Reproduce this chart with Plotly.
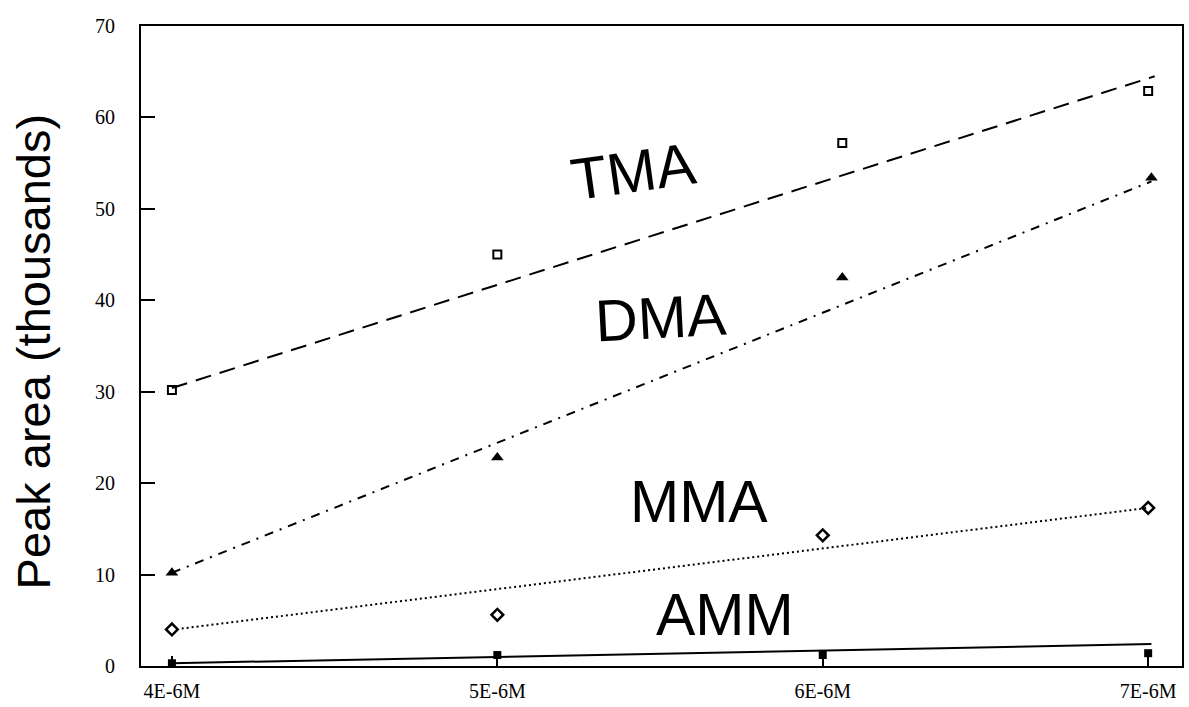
import plotly.graph_objects as go

# categories (concentration, x1E-6 M) and tick labels
conc = [4, 5, 6, 7]
tick_labels = ["4E-6M", "5E-6M", "6E-6M", "7E-6M"]

# measured points (thousands)
tma_x = [4, 5, 6.06, 7]
tma_y = [30.2, 45.0, 57.2, 62.9]
dma_x = [4, 5, 6.06, 7.01]
dma_y = [10.2, 22.8, 42.5, 53.4]
mma_x = [4, 5, 6.0, 7]
mma_y = [4.0, 5.6, 14.3, 17.3]
amm_x = [4, 5, 6, 7]
amm_y = [0.3, 1.2, 1.2, 1.4]

# trend lines (start / end)
tma_fit_x = [4, 7.02]
tma_fit_y = [30.4, 64.5]
dma_fit_x = [4, 7.01]
dma_fit_y = [10.2, 53.0]
mma_fit_x = [4.03, 7]
mma_fit_y = [4.1, 17.3]
amm_fit_x = [4, 7.01]
amm_fit_y = [0.3, 2.4]

fig = go.Figure()

# trend lines
fig.add_trace(go.Scatter(x=tma_fit_x, y=tma_fit_y, mode="lines",
                         line=dict(color="black", width=2, dash="16px,9px")))
fig.add_trace(go.Scatter(x=dma_fit_x, y=dma_fit_y, mode="lines",
                         line=dict(color="black", width=2, dash="9px,7px,2px,7px")))
fig.add_trace(go.Scatter(x=mma_fit_x, y=mma_fit_y, mode="lines",
                         line=dict(color="black", width=2, dash="2px,3px")))
fig.add_trace(go.Scatter(x=amm_fit_x, y=amm_fit_y, mode="lines",
                         line=dict(color="black", width=2)))

# markers
fig.add_trace(go.Scatter(x=tma_x, y=tma_y, mode="markers",
                         marker=dict(symbol="square-open", size=8, color="black",
                                     line=dict(width=2, color="black"))))
fig.add_trace(go.Scatter(x=dma_x, y=dma_y, mode="markers",
                         marker=dict(symbol="triangle-up", size=11, color="black")))
fig.add_trace(go.Scatter(x=mma_x, y=mma_y, mode="markers",
                         marker=dict(symbol="diamond-open", size=9, color="black",
                                     line=dict(width=2.5, color="black"))))
fig.add_trace(go.Scatter(x=amm_x, y=amm_y, mode="markers",
                         marker=dict(symbol="square", size=8, color="black")))

label_font = dict(family="Liberation Sans, Arial, sans-serif", size=59, color="black")
annos = [
    dict(text="TMA", x=5.417, y=54.0, textangle=-8),
    dict(text="DMA", x=5.503, y=38.1, textangle=-3),
    dict(text="MMA", x=5.62, y=17.9, textangle=0),
    dict(text="AMM", x=5.70, y=5.6, textangle=0),
]
for a in annos:
    fig.add_annotation(text=a["text"], x=a["x"], y=a["y"], xref="x", yref="y",
                       textangle=a["textangle"], showarrow=False, font=label_font)

fig.add_annotation(text="Peak area (thousands)", xref="paper", yref="paper",
                   x=-0.1035, y=0.492, xanchor="center", yanchor="middle",
                   textangle=-90, showarrow=False,
                   font=dict(family="Liberation Sans, Arial, sans-serif", size=47, color="black"))

tick_font = dict(family="Liberation Serif, Times New Roman, serif", size=20, color="black")

fig.update_layout(
    width=1189, height=707,
    margin=dict(l=141, r=5, t=26, b=41),
    paper_bgcolor="white", plot_bgcolor="white",
    showlegend=False,
    xaxis=dict(range=[3.905, 7.104], tickmode="array", tickvals=conc, ticktext=tick_labels,
               showgrid=False, zeroline=False, showline=True, linecolor="black", linewidth=2,
               mirror=True, ticks="inside", ticklen=10, tickwidth=2, tickcolor="black",
               tickfont=tick_font, ticklabelstandoff=6),
    yaxis=dict(range=[0, 70], tickmode="array", tickvals=[0, 10, 20, 30, 40, 50, 60, 70],
               showgrid=False, zeroline=False, showline=True, linecolor="black", linewidth=2,
               mirror=True, ticks="inside", ticklen=14, tickwidth=2, tickcolor="black",
               tickfont=tick_font, ticklabelstandoff=20),
)

fig.write_html("out.html", config={"displayModeBar": False},
               post_script="document.body.style.margin='0';document.body.style.padding='0';")
